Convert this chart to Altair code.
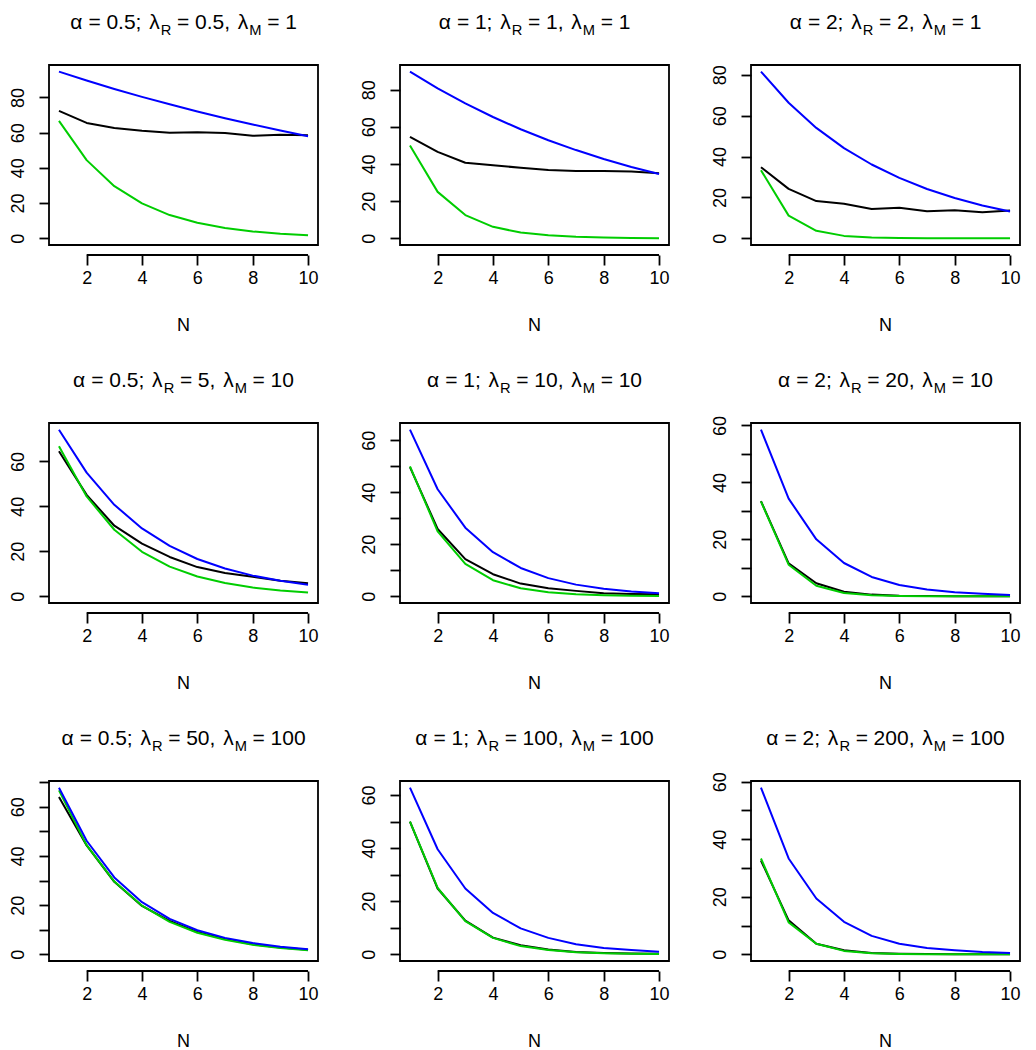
import altair as alt
import pandas as pd

# ---------------- data ----------------
N_VALUES = list(range(1, 11))

ALPHA_LABELS = ["0.5", "1", "2"]                      # by column
LAMBDA_R_LABELS = [["0.5", "1", "2"],                  # by row, column
                   ["5", "10", "20"],
                   ["50", "100", "200"]]
LAMBDA_M_LABELS = ["1", "10", "100"]                   # by row

BLUE = [
    [94.6, 89.6, 84.8, 80.3, 76.1, 72.0, 68.2, 64.6, 61.2, 58.0],
    [89.7, 80.7, 72.6, 65.3, 58.7, 52.8, 47.5, 42.7, 38.4, 34.6],
    [81.5, 66.3, 54.0, 44.1, 36.1, 29.6, 24.1, 19.7, 16.1, 13.1],
    [74.1, 55.0, 40.7, 30.2, 22.4, 16.6, 12.4, 9.2, 6.9, 5.1],
    [64.1, 41.2, 26.4, 17.0, 10.9, 7.0, 4.5, 2.9, 1.9, 1.2],
    [58.5, 34.3, 20.0, 11.7, 6.8, 4.0, 2.4, 1.4, 0.9, 0.5],
    [67.8, 46.2, 31.3, 21.2, 14.4, 9.8, 6.7, 4.6, 3.1, 2.1],
    [62.8, 39.6, 24.8, 15.6, 9.8, 6.2, 3.8, 2.4, 1.6, 1.0],
    [57.9, 33.3, 19.4, 11.3, 6.4, 3.7, 2.2, 1.4, 0.8, 0.5],
]
BLACK = [
    [72.3, 65.5, 62.6, 61.0, 59.9, 60.2, 59.8, 58.2, 58.8, 58.5],
    [54.6, 46.5, 40.7, 39.3, 38.0, 36.8, 36.3, 36.3, 36.0, 35.0],
    [34.8, 24.2, 18.2, 16.9, 14.3, 14.9, 13.3, 13.7, 12.8, 13.6],
    [64.5, 45.1, 31.4, 23.4, 17.5, 13.0, 10.4, 8.7, 6.9, 5.8],
    [49.7, 25.9, 14.3, 8.5, 4.9, 3.1, 2.1, 1.2, 0.9, 0.8],
    [33.4, 11.6, 4.6, 1.6, 0.6, 0.2, 0.1, 0.05, 0.02, 0.01],
    [64.0, 44.3, 29.5, 19.7, 13.6, 9.1, 6.2, 4.1, 2.8, 1.9],
    [50.0, 24.8, 12.7, 6.3, 3.4, 1.8, 0.9, 0.5, 0.3, 0.2],
    [32.6, 11.8, 3.7, 1.4, 0.5, 0.2, 0.1, 0.05, 0.02, 0.01],
]
GREEN = [
    [66.7, 44.4, 29.6, 19.8, 13.2, 8.8, 5.9, 3.9, 2.6, 1.7],
    [50.0, 25.0, 12.5, 6.2, 3.1, 1.6, 0.8, 0.4, 0.2, 0.1],
    [33.3, 11.1, 3.7, 1.2, 0.4, 0.14, 0.05, 0.02, 0.01, 0.0],
    [66.7, 44.4, 29.6, 19.8, 13.2, 8.8, 5.9, 3.9, 2.6, 1.7],
    [50.0, 25.0, 12.5, 6.2, 3.1, 1.6, 0.8, 0.4, 0.2, 0.1],
    [33.3, 11.1, 3.7, 1.2, 0.4, 0.14, 0.05, 0.02, 0.01, 0.0],
    [66.7, 44.4, 29.6, 19.8, 13.2, 8.8, 5.9, 3.9, 2.6, 1.7],
    [50.0, 25.0, 12.5, 6.2, 3.1, 1.6, 0.8, 0.4, 0.2, 0.1],
    [33.3, 11.1, 3.7, 1.2, 0.4, 0.14, 0.05, 0.02, 0.01, 0.0],
]
Y_TICK_STEP = [20, 20, 20, 20, 10, 10, 10, 10, 10]
X_TICKS = [2, 4, 6, 8, 10]

# ---------------- styling ----------------
W, H = 269, 180
FONT = "Liberation Sans"
TITLE_FS = 21
SUB_FS = TITLE_FS * 0.7
LABEL_FS = 18
LW = 2
FRAME_W = 1.8
COLORS = {"black": "#000000", "green": "#00CD00", "blue": "#0000FF"}

CHAR_W = {"0": .556, "1": .556, "2": .556, "5": .556, ".": .278, ";": .278,
          ",": .278, "=": .584, "α": .60, "λ": .55, "R": .722, "M": .833}
EQ_GAP = 0.27
SEP_GAP = 0.37


def text_w(s, fs):
    return sum(CHAR_W.get(c, .556) for c in s) * fs


def title_layers(a, lr, lm):
    toks = [("α", 0, 0), ("=", 0, EQ_GAP), (a + ";", 0, EQ_GAP),
            ("λ", 0, SEP_GAP), ("R", 1, 0), ("=", 0, EQ_GAP), (lr + ",", 0, EQ_GAP),
            ("λ", 0, SEP_GAP), ("M", 1, 0), ("=", 0, EQ_GAP), (lm, 0, EQ_GAP)]
    pieces = []
    pos = 0.0
    for t, sub, gap in toks:
        fs = SUB_FS if sub else TITLE_FS
        pos += gap * TITLE_FS
        pieces.append((t, pos, fs, sub))
        pos += text_w(t, fs)
    start = W / 2 - pos / 2
    layers = []
    for t, p, fs, sub in pieces:
        layers.append(
            alt.Chart(alt.Data(values=[{}])).mark_text(
                x=start + p, y=-36.3 + (6.2 if sub else 0), align="left",
                baseline="alphabetic", font=FONT, fontSize=fs, color="black"
            ).encode(text=alt.value(t))
        )
    return layers


def panel(i):
    r, c = divmod(i, 3)
    vals = BLUE[i] + BLACK[i] + GREEN[i]
    hi = max(vals)
    lo = min(0, min(vals))
    pad = 0.04 * (hi - lo)
    ydom = [lo - pad, hi + pad]
    step = Y_TICK_STEP[i]
    yticks = [k * step for k in range(0, int(ydom[1] // step) + 1)]

    xenc = alt.X("N:Q", scale=alt.Scale(domain=[1 - 0.36, 10 + 0.36], nice=False, zero=False),
                 axis=alt.Axis(values=X_TICKS, offset=10, title=None, labelPadding=4,
                               labelAngle=0, domain=False))
    yenc = alt.Y("v:Q", scale=alt.Scale(domain=ydom, nice=False, zero=False),
                 axis=alt.Axis(values=yticks, title=None, labelAngle=270, labelPadding=12,
                               domain=False,
                               labelExpr="datum.value % 20 == 0 ? datum.label : ''"))
    layers = []
    for name, arr in (("black", BLACK), ("green", GREEN), ("blue", BLUE)):
        df = pd.DataFrame({"N": N_VALUES, "v": arr[i]})
        layers.append(alt.Chart(df).mark_line(color=COLORS[name], strokeWidth=LW,
                                              strokeJoin="round").encode(x=xenc, y=yenc))
    layers.append(
        alt.Chart(alt.Data(values=[{}])).mark_rule(color="black", strokeWidth=FRAME_W).encode(
            x=alt.datum(X_TICKS[0]), x2=alt.datum(X_TICKS[-1]), y=alt.value(H + 10))
    )
    layers.append(
        alt.Chart(alt.Data(values=[{}])).mark_text(
            x=W / 2, y=H + 86, align="center", baseline="alphabetic",
            font=FONT, fontSize=LABEL_FS, color="black").encode(text=alt.value("N"))
    )
    layers += title_layers(ALPHA_LABELS[c], LAMBDA_R_LABELS[r][c], LAMBDA_M_LABELS[r])
    return alt.layer(*layers).properties(width=W, height=H)


chart = alt.concat(*[panel(i) for i in range(9)], columns=3,
                   spacing={"row": 178, "column": 82}, bounds="flush")
chart = chart.properties(
    padding={"left": 0, "top": 2, "right": 0, "bottom": 0},
    background="white",
).configure_view(
    stroke="black", strokeWidth=FRAME_W
).configure_axis(
    labelFont=FONT, labelFontSize=LABEL_FS, labelColor="black",
    tickColor="black", tickWidth=FRAME_W, tickSize=10, grid=False,
)

chart.save("out.html", embed_options={"renderer": "svg", "actions": False})
